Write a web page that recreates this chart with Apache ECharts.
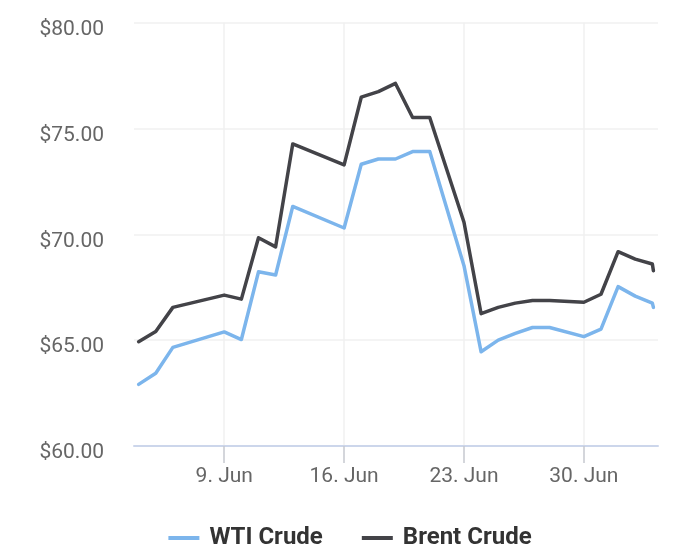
<!DOCTYPE html>
<html>
<head>
<meta charset="utf-8">
<script src="https://cdn.jsdelivr.net/npm/echarts@6/dist/echarts.min.js"></script>
<style>
html,body{margin:0;padding:0;background:#fff;}
#chart{width:700px;height:556px;}
</style>
</head>
<body>
<div id="chart"></div>
<script>
// ---- data ----
const dates = ['2025-06-04','2025-06-05','2025-06-06','2025-06-09','2025-06-10','2025-06-11','2025-06-12','2025-06-13',
  '2025-06-16','2025-06-17','2025-06-18','2025-06-19','2025-06-20','2025-06-21','2025-06-23','2025-06-24',
  '2025-06-25','2025-06-26','2025-06-27','2025-06-28','2025-06-30','2025-07-01','2025-07-02','2025-07-03',
  '2025-07-04','2025-07-04 01:30'];
const wti = [62.91,63.44,64.66,65.39,65.03,68.23,68.08,71.32,
  70.30,73.31,73.56,73.56,73.91,73.91,68.52,64.45,
  65.00,65.32,65.60,65.60,65.17,65.52,67.53,67.08,
  66.75,66.55];
const brent = [64.93,65.41,66.55,67.13,66.94,69.84,69.41,74.27,
  73.28,76.48,76.74,77.13,75.52,75.52,70.57,66.25,
  66.55,66.75,66.87,66.87,66.79,67.17,69.18,68.83,
  68.60,68.28];
const tickDates = ['2025-06-09','2025-06-16','2025-06-23','2025-06-30'];
const yTicks = [60, 65, 70, 75, 80];
const seriesNames = ['WTI Crude', 'Brent Crude'];
const monthNames = ['Jan','Feb','Mar','Apr','May','Jun','Jul','Aug','Sep','Oct','Nov','Dec'];

// ---- helpers ----
const BASE = Date.UTC(2025, 5, 0);
function toDay(s) {
  const [d, t] = s.split(' ');
  const [Y, M, D] = d.split('-').map(Number);
  let h = 0, m = 0;
  if (t) { [h, m] = t.split(':').map(Number); }
  return (Date.UTC(Y, M - 1, D, h, m) - BASE) / 86400000;
}
function dayLabel(v) {
  const dt = new Date(BASE + Math.round(v) * 86400000);
  return dt.getUTCDate() + '. ' + monthNames[dt.getUTCMonth()];
}
const xs = dates.map(toDay);
const tickXs = tickDates.map(toDay);
const xMin = toDay('2025-06-04') - 0.27;
const xMax = toDay('2025-07-04') + 0.33;

const chart = echarts.init(document.getElementById('chart'), null, {renderer: 'canvas'});
chart.setOption({
  animation: false,
  backgroundColor: '#ffffff',
  grid: {left: 134, right: 42, top: 22.7, bottom: 110, containLabel: false},
  xAxis: {
    type: 'value',
    min: xMin,
    max: xMax,
    axisLine: {show: true, lineStyle: {color: '#ccd6eb', width: 2}},
    axisTick: {show: true, length: 17, customValues: tickXs, lineStyle: {color: '#c6c9d0', width: 1.5}},
    axisLabel: {
      customValues: tickXs,
      formatter: dayLabel,
      color: '#666666',
      fontFamily: 'Roboto',
      fontSize: 21,
      margin: 20
    },
    splitLine: {show: true, customValues: tickXs, lineStyle: {color: '#f0f0f0', width: 1.5}}
  },
  yAxis: {
    type: 'value',
    min: yTicks[0],
    max: yTicks[yTicks.length - 1],
    interval: 5,
    axisLine: {show: false},
    axisTick: {show: false},
    axisLabel: {
      formatter: v => '$' + v.toFixed(2),
      color: '#666666',
      fontFamily: 'Roboto',
      fontSize: 21,
      margin: 30,
      verticalAlign: 'top',
      lineHeight: 14
    },
    splitLine: {show: true, lineStyle: {color: '#f0f0f0', width: 1.5}}
  },
  legend: {
    data: seriesNames,
    left: 'center',
    top: 521,
    icon: 'rect',
    itemWidth: 31,
    itemHeight: 4,
    itemGap: 39,
    textStyle: {color: '#333333', fontFamily: 'Roboto', fontWeight: 'bold', fontSize: 24, padding: [0, 0, 0, 5]}
  },
  series: [
    {
      name: seriesNames[0],
      type: 'line',
      data: xs.map((x, i) => [x, wti[i]]),
      showSymbol: false,
      symbol: 'none',
      color: '#7cb5ec',
      lineStyle: {width: 3.5, color: '#7cb5ec', cap: 'round', join: 'round'}
    },
    {
      name: seriesNames[1],
      type: 'line',
      data: xs.map((x, i) => [x, brent[i]]),
      showSymbol: false,
      symbol: 'none',
      color: '#434348',
      lineStyle: {width: 3.5, color: '#434348', cap: 'round', join: 'round'}
    }
  ]
});
</script>
</body>
</html>
